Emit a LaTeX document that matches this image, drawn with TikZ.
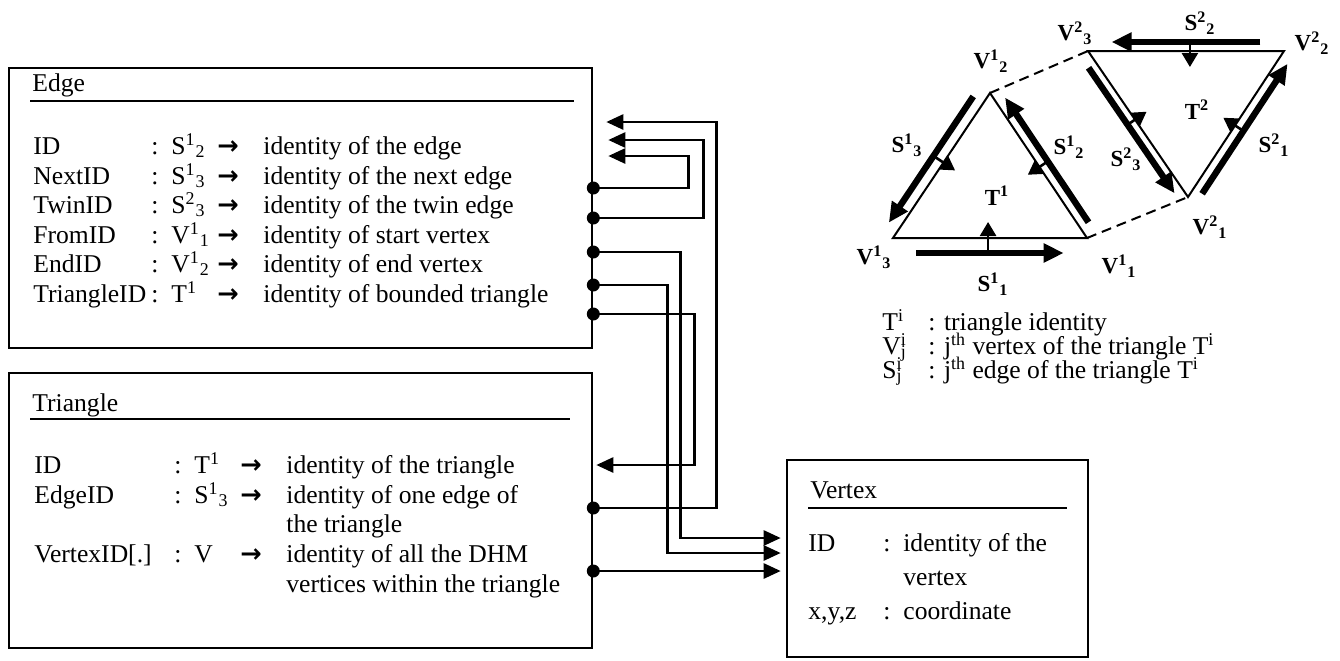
\documentclass[tikz,border=0pt]{standalone}
\usepackage{fontspec}
\setmainfont{Liberation Serif}
\newfontfamily\arrowfont{DejaVu Sans}
\usetikzlibrary{arrows.meta, calc}

% one line of a record: name : value -> meaning
\newcommand{\arrowsym}{{\arrowfont\bfseries →}}
\newcommand{\fieldrow}[4]{\makebox[#1][l]{#2}\makebox[10pt][l]{:}\makebox[23pt][l]{#3}\makebox[23pt][l]{\arrowsym}#4}

\begin{document}
\begin{tikzpicture}[
    x=0.5pt, y=-0.5pt, % one unit = one pixel of the sketch
    >={Triangle[length=8.5pt, width=7.5pt]},
    box/.style={draw, line width=1.3pt, inner sep=0pt},
    field/.style={anchor=base west, inner sep=0pt, font=\fontsize{12.8}{15}\selectfont},
    rule/.style={line width=1pt},
    link/.style={->, line width=1.3pt}, % pointer between records
    dot/.style={circle, fill, inner sep=0pt, minimum size=6.5pt},
    mesh/.style={line width=1pt},
    twin/.style={line width=1pt, dash pattern=on 5pt off 3pt},
    halfedge/.style={-{Triangle[length=10pt, width=9pt]}, line width=3.2pt},
    face/.style={-{Triangle[length=7pt, width=8pt]}, line width=1.3pt},
    lbl/.style={inner sep=0pt, font=\fontsize{11.5}{13}\selectfont\bfseries}
]
    \useasboundingbox (0,0) rectangle (1340,660);

%    ############# RECORDS
    \node[box, minimum width=291.5pt, minimum height=140pt] (edge) at (300.5,208) {};
    \node[box, minimum width=291.5pt, minimum height=137.5pt] (tri) at (300.5,510.5) {};
    \node[box, minimum width=150.5pt, minimum height=98.5pt] (vertex) at (937.5,558.5) {};

    % Edge record
    \node[field] (eTitle) at (32,91) {Edge};
    \draw[rule] (30,101) -- (574,101);
    \node[field] (eID) at (33,154) {\fieldrow{59pt}{ID}{S\textsuperscript{1}\textsubscript{2}}{identity of the edge}};
    \node[field] (eNext) at (33,184) {\fieldrow{59pt}{NextID}{S\textsuperscript{1}\textsubscript{3}}{identity of the next edge}};
    \node[field] (eTwin) at (33,213) {\fieldrow{59pt}{TwinID}{S\textsuperscript{2}\textsubscript{3}}{identity of the twin edge}};
    \node[field] (eFrom) at (33,243) {\fieldrow{59pt}{FromID}{V\textsuperscript{1}\textsubscript{1}}{identity of start vertex}};
    \node[field] (eEnd) at (33,272) {\fieldrow{59pt}{EndID}{V\textsuperscript{1}\textsubscript{2}}{identity of end vertex}};
    \node[field] (eTri) at (33,302) {\fieldrow{59pt}{TriangleID}{T\textsuperscript{1}}{identity of bounded triangle}};

    % Triangle record
    \node[field] (tTitle) at (32,411) {Triangle};
    \draw[rule] (30,419) -- (570,419);
    \node[field] (tID) at (34,473) {\fieldrow{70pt}{ID}{T\textsuperscript{1}}{identity of the triangle}};
    \node[field] (tEdge) at (34,503) {\fieldrow{70pt}{EdgeID}{S\textsuperscript{1}\textsubscript{3}}{identity of one edge of}};
    \node[field] (tEdgeB) at (286,532) {the triangle};
    \node[field] (tVert) at (34,562) {\fieldrow{70pt}{VertexID[.]}{V}{identity of all the DHM}};
    \node[field] (tVertB) at (286,592) {vertices within the triangle};

    % Vertex record
    \node[field] (vTitle) at (810,498) {Vertex};
    \draw[rule] (808,508) -- (1067,508);
    \node[field] (vID) at (808,551) {\makebox[37.5pt][l]{ID}\makebox[10pt][l]{:}identity of the};
    \node[field] (vIDB) at (903,585) {vertex};
    \node[field] (vXYZ) at (808,619) {\makebox[37.5pt][l]{x,y,z}\makebox[10pt][l]{:}coordinate};

%    ############# POINTERS
    \node[dot] (eNextDot) at (edge.east |- 0,188) {};
    \node[dot] (eTwinDot) at (edge.east |- 0,218) {};
    \node[dot] (eFromDot) at (edge.east |- 0,252) {};
    \node[dot] (eEndDot) at (edge.east |- 0,285) {};
    \node[dot] (eTriDot) at (edge.east |- 0,314) {};
    \node[dot] (tEdgeDot) at (tri.east |- 0,508) {};
    \node[dot] (tVertDot) at (tri.east |- 0,571) {};

    \coordinate (inEdgeA) at ($(edge.east |- 0,122)+(13,0)$);
    \coordinate (inEdgeB) at ($(edge.east |- 0,140)+(15,0)$);
    \coordinate (inEdgeC) at ($(edge.east |- 0,156)+(15,0)$);
    \coordinate (inTri) at ($(tri.east |- 0,465)+(3,0)$);
    \coordinate (inVertA) at ($(vertex.west |- 0,538)+(-5,0)$);
    \coordinate (inVertB) at ($(vertex.west |- 0,553)+(-5,0)$);
    \coordinate (inVertC) at ($(vertex.west |- 0,571)+(-5,0)$);

    \draw[link] (eNextDot.center) -- ++(95,0) |- (inEdgeC);
    \draw[link] (eTwinDot.center) -- ++(110,0) |- (inEdgeB);
    \draw[link] (eFromDot.center) -- ++(87,0) |- (inVertA);
    \draw[link] (eEndDot.center) -- ++(74,0) |- (inVertB);
    \draw[link] (eTriDot.center) -- ++(101,0) |- (inTri);
    \draw[link] (tEdgeDot.center) -- ++(123,0) |- (inEdgeA);
    \draw[link] (tVertDot.center) -- (inVertC);

%    ############# TWO TRIANGLES
    \coordinate (V11) at (1087,238);
    \coordinate (V12) at (990,93);
    \coordinate (V13) at (893,238);
    \coordinate (V21) at (1188,197);
    \coordinate (V22) at (1284,51);
    \coordinate (V23) at (1088,51);

    \draw[mesh] (V11) -- (V12) -- (V13) -- cycle;
    \draw[mesh] (V21) -- (V22) -- (V23) -- cycle;
    \draw[twin] (V12) -- (V23);
    \draw[twin] (V11) -- (V21);

    % half edges, just outside each side
    \draw[halfedge] ($(V13)!0.12!(V11)!7.5pt!-90:(V11)$) -- ($(V13)!0.88!(V11)!7.5pt!-90:(V11)$); % S11
    \draw[halfedge] ($(V11)!0.07!(V12)!5pt!-90:(V12)$) -- ($(V11)!0.93!(V12)!5pt!-90:(V12)$); % S12
    \draw[halfedge] ($(V12)!0.07!(V13)!6pt!-90:(V13)$) -- ($(V12)!0.94!(V13)!6pt!-90:(V13)$); % S13
    \draw[halfedge] ($(V21)!0.06!(V22)!5pt!-90:(V22)$) -- ($(V21)!0.95!(V22)!5pt!-90:(V22)$); % S21
    \draw[halfedge] ($(V22)!0.12!(V23)!4.5pt!-90:(V23)$) -- ($(V22)!0.88!(V23)!4.5pt!-90:(V23)$); % S22
    \draw[halfedge] ($(V23)!0.08!(V21)!4.5pt!-90:(V21)$) -- ($(V23)!0.94!(V21)!4.5pt!-90:(V21)$); % S23

    % small ticks towards the bounded face
    \draw[face] ($(V13)!0.49!(V11)!7.5pt!-90:(V11)$) -- ($(V13)!0.49!(V11)!8pt!90:(V11)$);
    \draw[face] ($(V11)!0.49!(V12)!5pt!-90:(V12)$) -- ($(V11)!0.49!(V12)!7pt!90:(V12)$);
    \draw[face] ($(V12)!0.48!(V13)!6pt!-90:(V13)$) -- ($(V12)!0.48!(V13)!7pt!90:(V13)$);
    \draw[face] ($(V21)!0.49!(V22)!5pt!-90:(V22)$) -- ($(V21)!0.49!(V22)!7pt!90:(V22)$);
    \draw[face] ($(V22)!0.48!(V23)!4.5pt!-90:(V23)$) -- ($(V22)!0.48!(V23)!8pt!90:(V23)$);
    \draw[face] ($(V23)!0.47!(V21)!4.5pt!-90:(V21)$) -- ($(V23)!0.47!(V21)!7pt!90:(V21)$);

    % labels
    \node[lbl] (lV12) at (991,61) {V\textsuperscript{1}\textsubscript{2}};
    \node[lbl] (lV23) at (1075,33) {V\textsuperscript{2}\textsubscript{3}};
    \node[lbl] (lS22) at (1200,23) {S\textsuperscript{2}\textsubscript{2}};
    \node[lbl] (lV22) at (1312,43) {V\textsuperscript{2}\textsubscript{2}};
    \node[lbl] (lS13) at (907,145) {S\textsuperscript{1}\textsubscript{3}};
    \node[lbl] (lS12) at (1069,147) {S\textsuperscript{1}\textsubscript{2}};
    \node[lbl] (lT1) at (997,196) {T\textsuperscript{1}};
    \node[lbl] (lT2) at (1197,110) {T\textsuperscript{2}};
    \node[lbl] (lS23) at (1126,159) {S\textsuperscript{2}\textsubscript{3}};
    \node[lbl] (lS21) at (1274,145) {S\textsuperscript{2}\textsubscript{1}};
    \node[lbl] (lV21) at (1210,227) {V\textsuperscript{2}\textsubscript{1}};
    \node[lbl] (lV13) at (874,257) {V\textsuperscript{1}\textsubscript{3}};
    \node[lbl] (lV11) at (1119,266) {V\textsuperscript{1}\textsubscript{1}};
    \node[lbl] (lS11) at (993,284) {S\textsuperscript{1}\textsubscript{1}};

%    ############# LEGEND
    \node[field] (legT) at (882,330) {\makebox[23pt][l]{T\textsuperscript{i}}: triangle identity};
    \node[field] (legV) at (882,354) {\makebox[23pt][l]{V\rlap{\textsuperscript{i}}\textsubscript{j}}: j\textsuperscript{th} vertex of the triangle T\textsuperscript{i}};
    \node[field] (legS) at (882,378) {\makebox[23pt][l]{S\rlap{\textsuperscript{i}}\textsubscript{j}}: j\textsuperscript{th} edge of the triangle T\textsuperscript{i}};

\end{tikzpicture}
\end{document}
